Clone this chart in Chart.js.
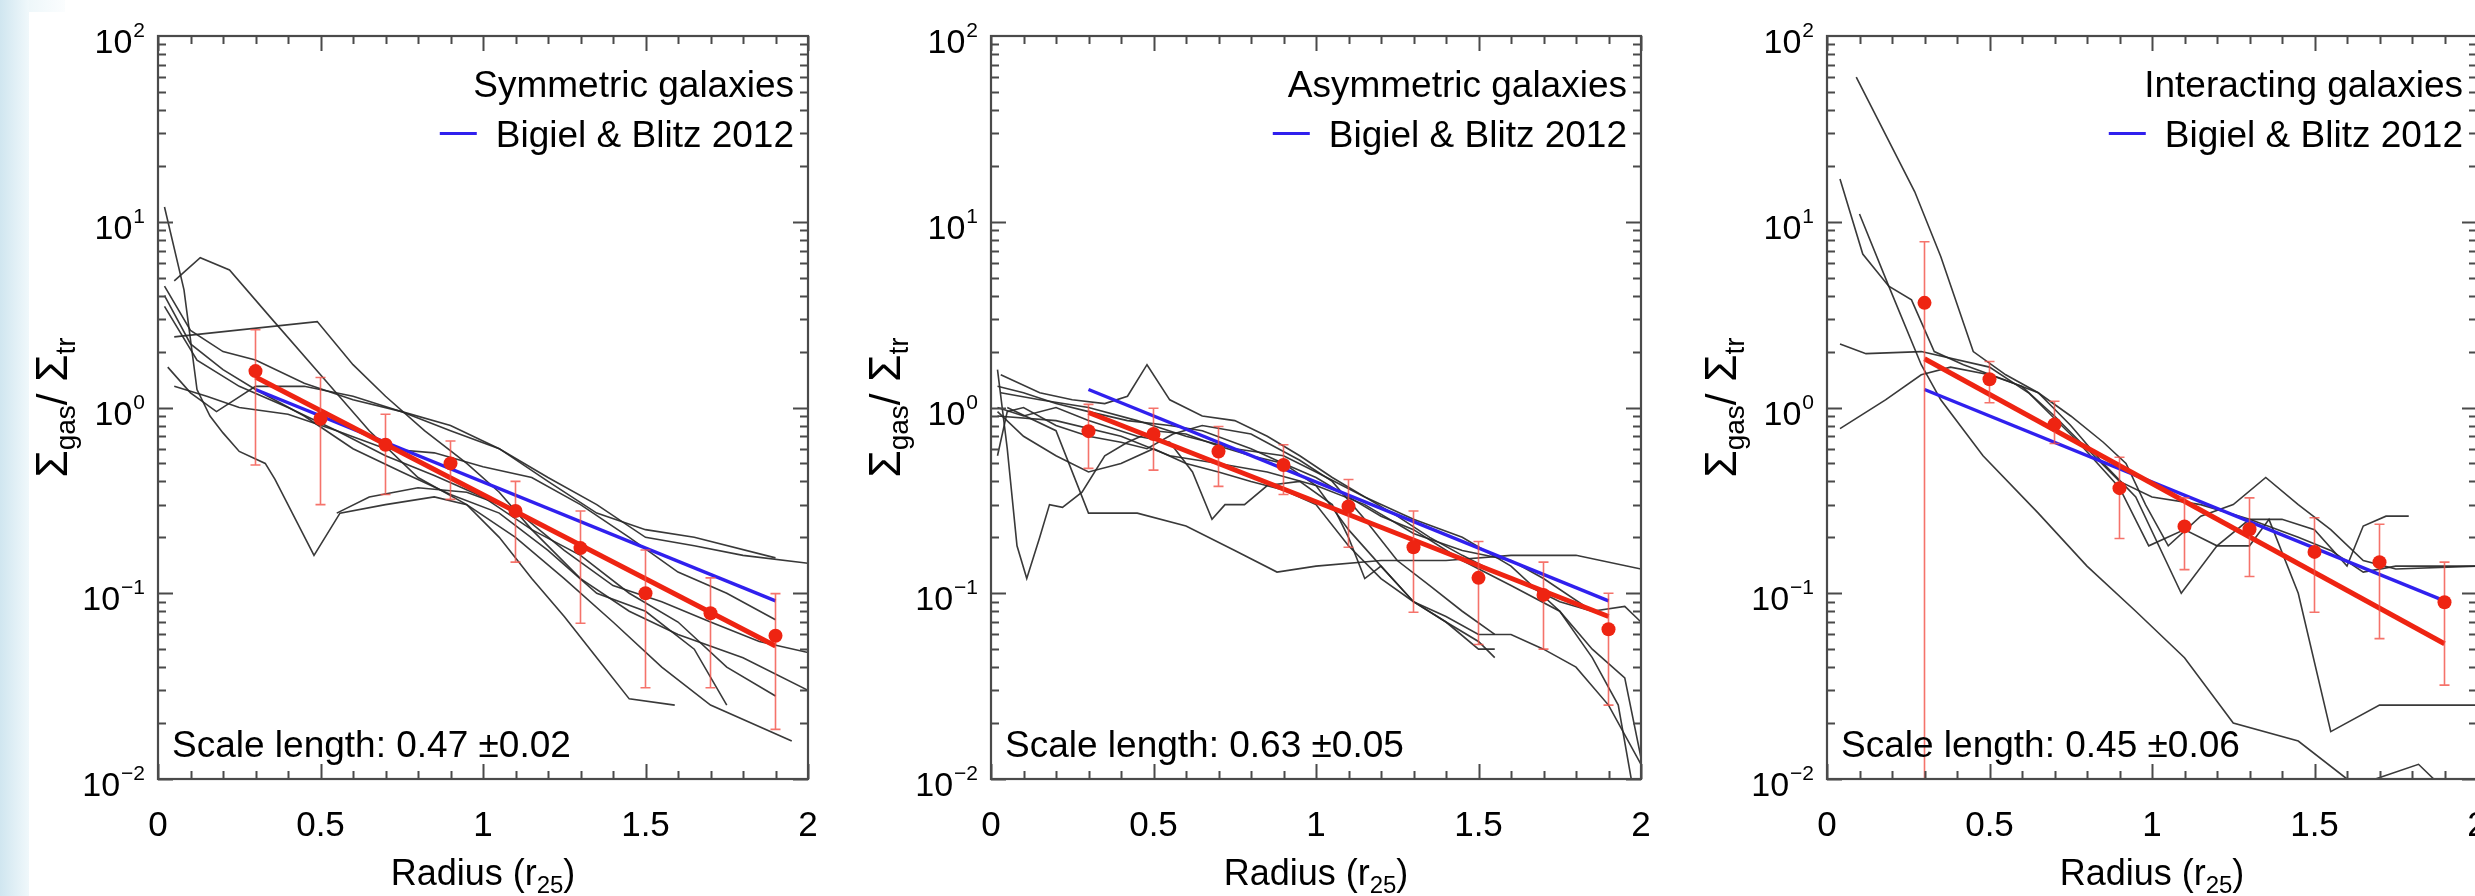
<!DOCTYPE html>
<html><head><meta charset="utf-8">
<script src="https://cdn.jsdelivr.net/npm/chart.js@4.4.1/dist/chart.umd.min.js"></script>
<style>
html,body{margin:0;padding:0;background:#fff;width:2475px;height:896px;overflow:hidden;position:relative}
#strip{position:absolute;left:0;top:0;width:29px;height:896px;background:linear-gradient(to right,#d0e6f0,#f0f8fb)}
#stripTop{position:absolute;left:29px;top:0;width:36px;height:12px;background:linear-gradient(to right,#eef7fa,#fbfdfe)}
canvas{position:absolute;top:0}
</style></head><body>
<div id="strip"></div><div id="stripTop"></div>
<canvas id="c1" width="830" height="896" style="left:0px"></canvas>
<canvas id="c2" width="830" height="896" style="left:833px"></canvas>
<canvas id="c3" width="830" height="896" style="left:1669px"></canvas>
<script>
// ---------- data ----------
const radii = [0.3,0.5,0.7,0.9,1.1,1.3,1.5,1.7,1.9];
const symMean  = [1.57,0.87,0.63,0.50,0.277,0.175,0.100,0.078,0.059];
const symLow   = [0.49,0.30,0.34,0.32,0.147,0.069,0.031,0.031,0.0185];
const symHigh  = [2.62,1.45,0.92,0.66,0.40,0.277,0.171,0.121,0.0995];
const asymMean = [0.746,0.72,0.58,0.49,0.293,0.177,0.121,0.098,0.064];
const asymLow  = [0.47,0.46,0.376,0.34,0.177,0.079,0.053,0.05,0.025];
const asymHigh = [1.04,0.99,0.79,0.63,0.41,0.277,0.19,0.147,0.10];
const intMean  = [3.66,1.42,0.81,0.368,0.229,0.221,0.167,0.147,0.0895];
const intLow   = [0.001,1.06,0.64,0.197,0.134,0.123,0.079,0.057,0.032];
const intHigh  = [7.8,1.77,1.08,0.54,0.326,0.326,0.255,0.235,0.147];

const fitX = [0.3,1.9];
const symFit  = [1.46,0.052];
const asymFit = [0.94,0.075];
const intFit  = [1.83,0.0535];
const bigielFit = [1.25,0.091];

const symProfiles = [
 [[0.02,12],[0.08,4.3],[0.12,1.25],[0.16,0.9],[0.2,0.73],[0.25,0.58],[0.33,0.5],[0.36,0.41],[0.48,0.16],[0.56,0.27],[0.7,0.3],[0.85,0.33],[0.95,0.3],[1.05,0.2],[1.15,0.12],[1.25,0.075],[1.35,0.045],[1.45,0.027],[1.59,0.025]],
 [[0.05,4.8],[0.13,6.4],[0.22,5.5],[0.35,3.0],[0.5,1.5],[0.65,0.75],[0.8,0.42],[0.95,0.3],[1.1,0.2],[1.25,0.12],[1.4,0.07],[1.55,0.04],[1.7,0.025],[1.95,0.016]],
 [[0.05,2.4],[0.49,2.9],[0.6,1.7],[0.7,1.15],[0.82,0.75],[0.95,0.5],[1.05,0.35],[1.15,0.22],[1.3,0.12],[1.45,0.08],[1.6,0.06],[1.8,0.045],[2.0,0.03]],
 [[0.02,4.5],[0.1,2.6],[0.2,2.0],[0.3,1.8],[0.45,1.35],[0.6,1.1],[0.75,0.95],[0.9,0.8],[1.05,0.6],[1.2,0.4],[1.35,0.27],[1.5,0.22],[1.65,0.2],[1.9,0.155]],
 [[0.03,1.65],[0.1,1.2],[0.18,0.95],[0.3,1.3],[0.45,1.3],[0.6,1.15],[0.75,0.95],[0.9,0.75],[1.05,0.6],[1.2,0.42],[1.35,0.3],[1.5,0.2],[1.65,0.18],[1.8,0.16],[2.0,0.145]],
 [[0.05,1.3],[0.15,1.15],[0.25,1.0],[0.4,0.92],[0.55,0.75],[0.7,0.6],[0.85,0.57],[1.0,0.48],[1.15,0.42],[1.3,0.3],[1.45,0.2],[1.6,0.13],[1.75,0.1],[1.9,0.072]],
 [[0.02,4.0],[0.1,2.2],[0.2,1.6],[0.3,1.25],[0.45,0.9],[0.6,0.6],[0.75,0.45],[0.9,0.34],[1.05,0.27],[1.2,0.17],[1.35,0.1],[1.5,0.08],[1.65,0.05],[1.75,0.025]],
 [[0.55,0.27],[0.65,0.33],[0.8,0.37],[0.95,0.35],[1.1,0.28],[1.25,0.17],[1.4,0.11],[1.55,0.09],[1.7,0.07],[1.85,0.055],[2.0,0.048]],
 [[0.02,3.5],[0.12,1.8],[0.25,1.3],[0.4,1.0],[0.55,0.75],[0.7,0.55],[0.85,0.43],[1.0,0.33],[1.15,0.22],[1.3,0.16],[1.45,0.1],[1.6,0.07],[1.75,0.04],[1.9,0.028]]
];
const asymProfiles = [
 [[0.02,1.6],[0.05,0.6],[0.08,0.18],[0.11,0.12],[0.15,0.2],[0.18,0.3],[0.22,0.29],[0.28,0.35],[0.35,0.55],[0.42,0.65],[0.5,0.75],[0.6,0.72],[0.7,0.62],[0.8,0.55],[0.9,0.5],[1.0,0.38],[1.1,0.22],[1.2,0.14],[1.3,0.09],[1.4,0.07],[1.5,0.055],[1.55,0.045]],
 [[0.02,0.55],[0.05,0.95],[0.1,1.0],[0.2,0.8],[0.3,0.7],[0.4,0.65],[0.48,0.6],[0.56,0.72],[0.65,0.8],[0.8,0.72],[0.95,0.52],[1.05,0.4],[1.15,0.25],[1.25,0.15],[1.35,0.11],[1.45,0.08],[1.55,0.06]],
 [[0.03,1.5],[0.15,1.2],[0.25,1.1],[0.35,1.05],[0.42,1.15],[0.48,1.7],[0.55,1.1],[0.65,0.9],[0.75,0.85],[0.85,0.7],[0.95,0.55],[1.05,0.42],[1.15,0.33],[1.25,0.26],[1.35,0.2],[1.45,0.16],[1.55,0.13],[1.65,0.11],[1.75,0.09],[1.85,0.08],[1.9,0.075]],
 [[0.02,1.3],[0.1,1.2],[0.2,1.05],[0.3,0.95],[0.42,0.85],[0.55,0.8],[0.65,0.75],[0.8,0.6],[0.9,0.5],[1.0,0.42],[1.1,0.33],[1.2,0.26],[1.3,0.22],[1.45,0.15],[1.6,0.11],[1.75,0.08],[1.85,0.05],[1.95,0.035],[2.0,0.013]],
 [[0.05,1.0],[0.2,0.75],[0.3,0.27],[0.45,0.27],[0.6,0.23],[0.75,0.17],[0.88,0.13],[1.0,0.14],[1.2,0.15],[1.4,0.15],[1.6,0.16],[1.8,0.16],[2.0,0.135]],
 [[0.02,1.0],[0.1,0.9],[0.2,1.0],[0.3,0.85],[0.45,0.7],[0.55,0.65],[0.62,0.45],[0.68,0.25],[0.72,0.3],[0.78,0.3],[0.85,0.38],[0.95,0.4],[1.05,0.3],[1.1,0.2],[1.15,0.12],[1.2,0.14],[1.3,0.09],[1.4,0.07],[1.5,0.05],[1.55,0.05]],
 [[0.03,1.2],[0.15,1.1],[0.3,1.0],[0.45,0.85],[0.6,0.7],[0.75,0.6],[0.9,0.55],[1.0,0.45],[1.15,0.33],[1.3,0.25],[1.45,0.2],[1.6,0.14],[1.75,0.08],[1.85,0.045],[1.93,0.025],[1.97,0.01]],
 [[0.02,0.95],[0.1,0.7],[0.2,0.55],[0.3,0.45],[0.4,0.5],[0.5,0.6],[0.6,0.5],[0.7,0.45],[0.8,0.4],[0.9,0.36],[1.0,0.3],[1.1,0.18],[1.2,0.12],[1.3,0.09],[1.4,0.075],[1.5,0.06],[1.6,0.06],[1.7,0.05],[1.8,0.04],[1.9,0.025],[2.0,0.012]],
 [[0.02,0.9],[0.2,0.85],[0.4,0.7],[0.55,0.55],[0.7,0.5],[0.85,0.45],[1.0,0.38],[1.15,0.3],[1.3,0.21],[1.45,0.17],[1.6,0.15],[1.7,0.12],[1.85,0.08],[1.95,0.085],[2.0,0.07]]
];
const intProfiles = [
 [[0.09,60],[0.27,14.5],[0.35,6.5],[0.45,2.0],[0.55,1.5],[0.65,1.2],[0.75,0.9],[0.85,0.65],[0.92,0.5],[0.98,0.3],[1.05,0.18],[1.15,0.26],[1.25,0.3],[1.35,0.42],[1.45,0.3],[1.55,0.22],[1.65,0.15],[1.75,0.135],[2.0,0.14]],
 [[0.04,17],[0.11,6.7],[0.19,4.5],[0.26,3.8],[0.33,2.0],[0.42,1.7],[0.55,1.4],[0.65,1.2],[0.75,0.8],[0.85,0.5],[0.95,0.33],[1.09,0.1],[1.2,0.18],[1.3,0.25],[1.4,0.25],[1.5,0.22],[1.6,0.14],[1.65,0.23],[1.72,0.26],[1.79,0.26]],
 [[0.1,11],[0.19,4.5],[0.29,1.7],[0.35,1.1],[0.48,0.55],[0.65,0.27],[0.8,0.14],[0.95,0.08],[1.1,0.045],[1.25,0.02],[1.45,0.016],[1.6,0.01]],
 [[0.04,2.2],[0.12,1.95],[0.29,2.0],[0.5,1.65],[0.62,1.2],[0.77,0.66],[0.9,0.37],[0.99,0.18],[1.1,0.22],[1.2,0.18],[1.3,0.18],[1.36,0.25],[1.45,0.1],[1.55,0.018],[1.7,0.025],[2.0,0.025]],
 [[0.04,0.77],[0.18,1.1],[0.29,1.5],[0.38,1.65],[0.5,1.5],[0.6,1.3],[0.7,0.9],[0.8,0.6],[0.9,0.4],[1.0,0.33],[1.15,0.3],[1.3,0.25],[1.45,0.2],[1.55,0.17],[1.65,0.13],[1.75,0.14],[2.0,0.14]],
 [[1.65,0.0095],[1.82,0.012],[1.88,0.0095]]
];

const xTickValues = [0,0.5,1,1.5,2];
const xTickLabels = ['0','0.5','1','1.5','2'];
const yTickValues = [0.01,0.1,1,10,100];
const yTickExponents = ['\u22122','\u22121','0','1','2'];

const panelTitles = ['Symmetric galaxies','Asymmetric galaxies','Interacting galaxies'];
const legendLabel = 'Bigiel & Blitz 2012';
const scaleLengths = ['Scale length: 0.47 \u00b10.02','Scale length: 0.63 \u00b10.05','Scale length: 0.45 \u00b10.06'];

// ---------- drawing ----------
const FONT = '"Liberation Sans", Arial, Helvetica, sans-serif';
const RED = '#ee2412';
const BLUE = '#3020ee';
const GRAY = 'rgba(40,40,40,0.92)';
const AXIS = '#4a4a4a';

function decoPlugin(p) {
  return {
    id: 'deco',
    beforeDatasetDraw(chart, args) {
      const ds = chart.data.datasets[args.index];
      if (!ds.isMean) return;
      const ctx = chart.ctx, xs = chart.scales.x, ys = chart.scales.y, ca = chart.chartArea;
      ctx.save();
      ctx.beginPath(); ctx.rect(ca.left, ca.top, ca.right - ca.left, ca.bottom - ca.top); ctx.clip();
      ctx.strokeStyle = 'rgba(242,80,70,0.8)'; ctx.lineWidth = 1.6;
      for (let i = 0; i < radii.length; i++) {
        const px = xs.getPixelForValue(radii[i]);
        const lo = ys.getPixelForValue(p.low[i]), hi = ys.getPixelForValue(p.high[i]);
        ctx.beginPath();
        ctx.moveTo(px, hi); ctx.lineTo(px, lo);
        ctx.moveTo(px - 5, hi); ctx.lineTo(px + 5, hi);
        ctx.moveTo(px - 5, lo); ctx.lineTo(px + 5, lo);
        ctx.stroke();
      }
      ctx.restore();
    },
    afterDraw(chart) {
      const ctx = chart.ctx, xs = chart.scales.x, ys = chart.scales.y, ca = chart.chartArea;
      ctx.save();
      // ticks
      ctx.strokeStyle = AXIS; ctx.lineWidth = 2;
      ctx.beginPath();
      for (let k = 0; k <= 20; k++) {
        const x = Math.round(xs.getPixelForValue(k / 10)) + 0.5;
        const len = (k % 5 === 0) ? 15 : 8;
        ctx.moveTo(x, ca.top); ctx.lineTo(x, ca.top + len);
        ctx.moveTo(x, ca.bottom); ctx.lineTo(x, ca.bottom - len);
      }
      for (let e = -2; e <= 1; e++) {
        for (let m = 1; m <= 9; m++) {
          const y = Math.round(ys.getPixelForValue(m * Math.pow(10, e))) + 0.5;
          const len = m === 1 ? 15 : 8;
          ctx.moveTo(ca.left, y); ctx.lineTo(ca.left + len, y);
          ctx.moveTo(ca.right, y); ctx.lineTo(ca.right - len, y);
        }
      }
      ctx.stroke();
      ctx.lineWidth = 2.2;
      ctx.strokeRect(ca.left, ca.top, ca.right - ca.left, ca.bottom - ca.top);

      ctx.fillStyle = '#000';
      // x tick labels
      ctx.font = '35px ' + FONT; ctx.textAlign = 'center'; ctx.textBaseline = 'alphabetic';
      xTickValues.forEach((v, i) => ctx.fillText(xTickLabels[i], xs.getPixelForValue(v), ca.bottom + 57));
      // y tick labels
      yTickValues.forEach((v, i) => {
        const y = ys.getPixelForValue(v);
        ctx.textAlign = 'right';
        ctx.font = '21px ' + FONT;
        const ex = yTickExponents[i];
        const ew = ctx.measureText(ex).width;
        const xr = ca.left - 13;
        ctx.fillText(ex, xr, y + 1);
        ctx.font = '34px ' + FONT;
        ctx.fillText('10', xr - ew - 1, y + 17);
      });
      // x title
      const cx = (ca.left + ca.right) / 2;
      ctx.textAlign = 'left';
      ctx.font = '36px ' + FONT; const w1 = ctx.measureText('Radius (r').width, w3 = ctx.measureText(')').width;
      ctx.font = '24px ' + FONT; const w2 = ctx.measureText('25').width;
      let sx = cx - (w1 + w2 + w3) / 2;
      ctx.font = '36px ' + FONT; ctx.fillText('Radius (r', sx, 885);
      ctx.font = '24px ' + FONT; ctx.fillText('25', sx + w1, 893);
      ctx.font = '36px ' + FONT; ctx.fillText(')', sx + w1 + w2, 885);
      // y title (rotated)
      ctx.save();
      ctx.translate(ca.left - 91, (ca.top + ca.bottom) / 2);
      ctx.rotate(-Math.PI / 2);
      const parts = [['\u03a3', 44, 0], ['gas', 28, 8], ['/ ', 42, 0], ['\u03a3', 44, 0], ['tr', 28, 8]];
      let tw = 0;
      parts.forEach(pt => { ctx.font = pt[1] + 'px ' + FONT; tw += ctx.measureText(pt[0]).width; });
      let tx = -tw / 2;
      parts.forEach(pt => { ctx.font = pt[1] + 'px ' + FONT; ctx.fillText(pt[0], tx, pt[2]); tx += ctx.measureText(pt[0]).width; });
      ctx.restore();
      // legend
      ctx.font = '37px ' + FONT; ctx.textAlign = 'right';
      ctx.fillText(p.title, ca.right - 14, 97);
      ctx.fillText(legendLabel, ca.right - 14, 147);
      const lw = ctx.measureText(legendLabel).width;
      const ls = ca.right - 14 - lw;
      ctx.strokeStyle = BLUE; ctx.lineWidth = 3;
      ctx.beginPath(); ctx.moveTo(ls - 56, 133.5); ctx.lineTo(ls - 19, 133.5); ctx.stroke();
      // scale length
      ctx.textAlign = 'left';
      ctx.fillText(p.scale, ca.left + 14, ca.bottom - 22);
      ctx.restore();
    }
  };
}

function makePanel(id, p) {
  const toPts = (xsArr, ysArr) => xsArr.map((x, i) => ({ x: x, y: ysArr[i] }));
  const datasets = [];
  datasets.push({ data: toPts(radii, p.mean), isMean: true, showLine: false, pointRadius: 7,
    pointBackgroundColor: RED, pointBorderColor: RED, pointBorderWidth: 0, order: 0 });
  datasets.push({ data: toPts(fitX, p.fit), borderColor: RED, borderWidth: 5, pointRadius: 0, order: 1 });
  datasets.push({ data: toPts(fitX, bigielFit), borderColor: BLUE, borderWidth: 3.5, pointRadius: 0, order: 2 });
  p.profiles.forEach(pr => datasets.push({
    data: pr.map(q => ({ x: q[0], y: q[1] })), borderColor: GRAY, borderWidth: 1.6, pointRadius: 0, order: 10
  }));
  return new Chart(document.getElementById(id), {
    type: 'line',
    data: { datasets },
    options: {
      responsive: false, animation: false, devicePixelRatio: 1, events: [],
      layout: { padding: { left: 158, right: 22, top: 36, bottom: 117 } },
      elements: { line: { tension: 0 } },
      plugins: { legend: { display: false }, tooltip: { enabled: false } },
      scales: {
        x: { type: 'linear', min: 0, max: 2, display: false },
        y: { type: 'logarithmic', min: 0.01, max: 100, display: false }
      }
    },
    plugins: [decoPlugin(p)]
  });
}

makePanel('c1', { mean: symMean, low: symLow, high: symHigh, fit: symFit, profiles: symProfiles, title: panelTitles[0], scale: scaleLengths[0] });
makePanel('c2', { mean: asymMean, low: asymLow, high: asymHigh, fit: asymFit, profiles: asymProfiles, title: panelTitles[1], scale: scaleLengths[1] });
makePanel('c3', { mean: intMean, low: intLow, high: intHigh, fit: intFit, profiles: intProfiles, title: panelTitles[2], scale: scaleLengths[2] });
</script>
</body></html>
